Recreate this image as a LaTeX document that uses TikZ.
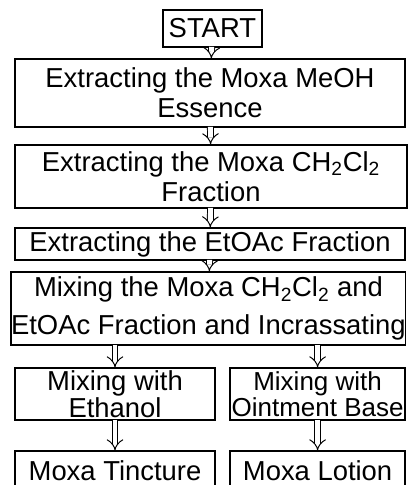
\documentclass[tikz,border=0pt]{standalone}
\usepackage{fontspec}
\setmainfont{Liberation Sans}
\usetikzlibrary{arrows.meta,positioning}

\begin{document}
\begin{tikzpicture}[thick,
    box/.style={draw, line width=0.9pt, align=center, inner sep=0pt,
      font=\fontsize{19.5}{21.5}\selectfont},
    flow/.style={double, double distance=3.5pt, line width=0.7pt,
      -{Implies[length=2.5pt, width=8pt]}, shorten <=-0.5pt}]
    \clip (0,0) rectangle (10.375,-12.125);

    % Start
    \node[box, minimum width=2.475cm, minimum height=0.925cm] (start) at (5.31,-0.71) {START};

    % Extraction steps
    \node[box, minimum width=9.75cm, minimum height=1.7cm] (meoh) at (5.25,-2.325)
        {Extracting the Moxa MeOH\\Essence};
    \node[box, minimum width=9.8cm, minimum height=1.575cm] (dcm) at (5.275,-4.41)
        {Extracting the Moxa CH\textsubscript{2}Cl\textsubscript{2}\\Fraction};
    \node[box, minimum width=9.75cm, minimum height=0.8cm] (etoac) at (5.25,-6.1)
        {Extracting the EtOAc Fraction};

    % Mixing
    \node[box, minimum width=9.825cm, minimum height=1.825cm] (mix) at (5.21,-7.71)
        {Mixing the Moxa CH\textsubscript{2}Cl\textsubscript{2} and\\[5pt]EtOAc Fraction and Incrassating};
    \node[box, minimum width=5cm, minimum height=1.3cm,
        font=\fontsize{19.5}{16}\selectfont] (ethanol) at (2.875,-9.85)
        {Mixing with\\Ethanol};
    \node[box, minimum width=4.375cm, minimum height=1.3cm,
        font=\fontsize{18.5}{16}\selectfont] (ointment) at (7.94,-9.85)
        {Mixing with\\Ointment Base};

    % Products
    \node[box, minimum width=5cm, minimum height=1cm] (tincture) at (2.875,-11.775)
        {Moxa Tincture};
    \node[box, minimum width=4.375cm, minimum height=1cm] (lotion) at (7.94,-11.775)
        {Moxa Lotion};

    \draw[flow] (start) -- (meoh);
    \draw[flow] (meoh) -- (dcm);
    \draw[flow] (dcm) -- (etoac);
    \draw[flow] (etoac) -- (mix);
    \draw[flow] (mix.south -| ethanol.north) -- (ethanol.north);
    \draw[flow] (mix.south -| ointment.north) -- (ointment.north);
    \draw[flow] (ethanol) -- (tincture);
    \draw[flow] (ointment) -- (lotion);
\end{tikzpicture}
\end{document}
